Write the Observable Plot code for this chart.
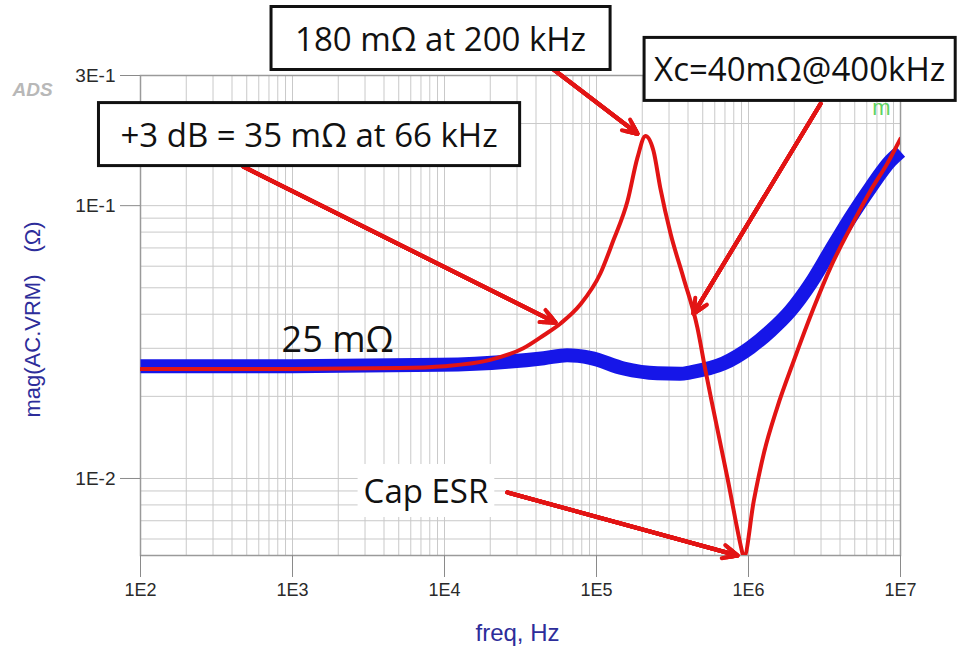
<!DOCTYPE html>
<html><head><meta charset="utf-8">
<script src="https://cdn.jsdelivr.net/npm/d3@7"></script>
<script src="https://cdn.jsdelivr.net/npm/@observablehq/plot@0.6"></script>
<style>body{margin:0;background:#fff}</style>
</head><body><div id="chart"></div>
<script>
// ---- data ----
const blueFreq = [100, 1000, 9400, 26000, 45000, 64000, 91000, 151000, 251000, 355000, 415000, 686000, 1030000, 1400000, 1890000, 2560000, 3460000, 4690000, 6350000, 8600000, 10000000];
const blueOhm  = [0.0258, 0.0258, 0.0261, 0.0268, 0.0276, 0.0283, 0.0277, 0.0253, 0.0243, 0.0242, 0.0245, 0.0264, 0.0302, 0.0348, 0.0412, 0.0518, 0.0684, 0.0903, 0.1164, 0.146, 0.158];
const redFreq  = [100, 1000, 5000, 10000, 20000, 33000, 45000, 58000, 78500, 106000, 129000, 160000, 186000, 210000, 237000, 263000, 307000, 373000, 461000, 521000, 571000, 728000, 914000, 930000, 1084000, 1261000, 1545000, 1986000, 2690000, 3460000, 4690000, 6350000, 8180000, 10000000];
const redOhm   = [0.0252, 0.0252, 0.0254, 0.0258, 0.0272, 0.030, 0.0335, 0.037, 0.0435, 0.0564, 0.0745, 0.104, 0.150, 0.180, 0.159, 0.116, 0.079, 0.0545, 0.0357, 0.0249, 0.0193, 0.010, 0.0053, 0.0051, 0.0083, 0.01235, 0.0182, 0.027, 0.0423, 0.0593, 0.0831, 0.1135, 0.1426, 0.176];

const xTicks = [1e2, 1e3, 1e4, 1e5, 1e6, 1e7];
const xTickLabels = ["1E2", "1E3", "1E4", "1E5", "1E6", "1E7"];
const yTicks = [0.01, 0.1, 0.3];
const yTickLabels = ["1E-2", "1E-1", "3E-1"];

const boxLabels = ["180 mΩ at 200 kHz", "+3 dB = 35 mΩ at 66 kHz", "Xc=40mΩ@400kHz"];
const boxFreq   = [9420, 1285, 2170000];
const boxOhm    = [0.405, 0.180, 0.312];
const escLabel = ["Cap ESR"];
const escFreq  = [7550];
const escOhm   = [0.00889];
const flatLabel = ["25 mΩ"];
const flatFreq  = [1980];
const flatOhm   = [0.032];

const arrowFromFreq = [48300, 476, 2980000, 25900];
const arrowFromOhm  = [0.326, 0.139, 0.2365, 0.00889];
const arrowToFreq   = [186000, 53700, 435000, 847000];
const arrowToOhm    = [0.1836, 0.0373, 0.0402, 0.00522];

const markerLabel = ["m"];
const markerFreq = [7500000];
const markerOhm = [0.2286];

// ---- build tables ----
const blue = blueFreq.map((f, i) => ({f, v: blueOhm[i]}));
const red = redFreq.map((f, i) => ({f, v: redOhm[i]}));
const boxes = boxLabels.map((t, i) => ({t, f: boxFreq[i], v: boxOhm[i]}));
const esr = escLabel.map((t, i) => ({t, f: escFreq[i], v: escOhm[i]}));
const flat = flatLabel.map((t, i) => ({t, f: flatFreq[i], v: flatOhm[i]}));
const arrows = arrowFromFreq.map((f, i) => ({f1: f, v1: arrowFromOhm[i], f2: arrowToFreq[i], v2: arrowToOhm[i]}));
const markers = markerLabel.map((t, i) => ({t, f: markerFreq[i], v: markerOhm[i]}));

const yDomain = [0.00522, 0.3];
const xMinor = d3.range(2, 7).flatMap(k => d3.range(1, 10).map(m => m * 10 ** k)).concat([1e7]);
const yMinor = d3.range(-3, 0).flatMap(k => d3.range(1, 10).map(m => +(m * 10 ** k).toPrecision(3))).filter(v => v >= yDomain[0] && v <= yDomain[1]);

const RED = "#e21414", BLUE = "#1616e8";
const headLens = [1.2, 2.4, 3.6, 4.8, 6];

const chart = Plot.plot({
  width: 959, height: 662,
  marginLeft: 140, marginRight: 59, marginTop: 75, marginBottom: 107,
  style: {fontFamily: "Liberation Sans, Arial, sans-serif", background: "#fff"},
  x: {type: "log", domain: [1e2, 1e7]},
  y: {type: "log", domain: yDomain},
  marks: [
    Plot.gridX(xMinor, {stroke: "#c9c9c9", strokeOpacity: 1, strokeWidth: 1}),
    Plot.gridY(yMinor, {stroke: "#c9c9c9", strokeOpacity: 1, strokeWidth: 1}),
    Plot.frame({stroke: "#9a9a9a", strokeWidth: 1.5}),
    Plot.axisX({ticks: xTicks, tickFormat: d => xTickLabels[xTicks.indexOf(d)], tickSize: 22, tickPadding: 6, fontSize: 18, stroke: "#8a8a8a", fill: "#2a2a2a", label: null}),
    Plot.axisY({ticks: yTicks, tickFormat: d => yTickLabels[yTicks.indexOf(d)], tickSize: 20, tickPadding: 5, fontSize: 19, stroke: "#8a8a8a", fill: "#2a2a2a", label: null}),
    Plot.text(["freq, Hz"], {frameAnchor: "bottom", dx: -3, dy: 85, fontSize: 24, fill: "#2d2d9a"}),
    Plot.text(["mag(AC.VRM)\u2002\u2002(Ω)"], {frameAnchor: "left", textAnchor: "middle", dx: -108, dy: 4, rotate: -90, fontSize: 22, fill: "#2d2d9a"}),
    Plot.text(["ADS"], {frameAnchor: "top-left", dx: -128, dy: 7, fontSize: 19, fontWeight: "bold", fontStyle: "italic", fill: "#b8b8b8"}),
    Plot.text(markers, {x: "f", y: "v", text: "t", fontSize: 22, fill: "#5fd35f"}),
    Plot.line(blue, {x: "f", y: "v", stroke: BLUE, strokeWidth: 14, curve: "monotone-x", strokeLinecap: "butt"}),
    Plot.line(red, {x: "f", y: "v", stroke: RED, strokeWidth: 4, curve: "monotone-x", clip: true}),
    ...headLens.map(h => Plot.arrow(arrows, {x1: "f1", y1: "v1", x2: "f2", y2: "v2", stroke: RED, strokeWidth: 4, headLength: h, headAngle: 50, strokeLinejoin: "miter"})),
    Plot.text(esr, {x: "f", y: "v", text: "t", fontSize: 33, fontFamily: "Open Sans", fill: "#111", className: "esrnote"}),
    Plot.text(flat, {x: "f", y: "v", text: "t", fontSize: 36, fontFamily: "Open Sans", fill: "#111"}),
    Plot.text(boxes, {x: "f", y: "v", text: "t", fontSize: 33, fontFamily: "Open Sans", fill: "#111", className: "boxnote"})
  ]
});
document.getElementById("chart").append(chart);

// boxes behind the annotation texts
const svgRect = chart.getBoundingClientRect();
const boxPadX = [24, 22, 10];
function backIt(cls, stroke, padX, padY) {
  const g = chart.querySelector("g." + cls);
  if (!g) return;
  const layer = d3.create("svg:g");
  d3.select(g).selectAll("text").each(function(d, i) {
    const b = this.getBoundingClientRect();
    const px = typeof padX === "function" ? padX(i) : padX;
    layer.append("rect")
      .attr("x", b.left - svgRect.left - px).attr("y", b.top - svgRect.top - padY)
      .attr("width", b.width + 2 * px).attr("height", b.height + 2 * padY)
      .attr("fill", "#fff").attr("stroke", stroke).attr("stroke-width", stroke === "none" ? 0 : 3);
  });
  g.parentNode.insertBefore(layer.node(), g);
}
backIt("boxnote", "#111", i => boxPadX[i], 9);
backIt("esrnote", "none", 6, 4);
</script>
</body></html>
